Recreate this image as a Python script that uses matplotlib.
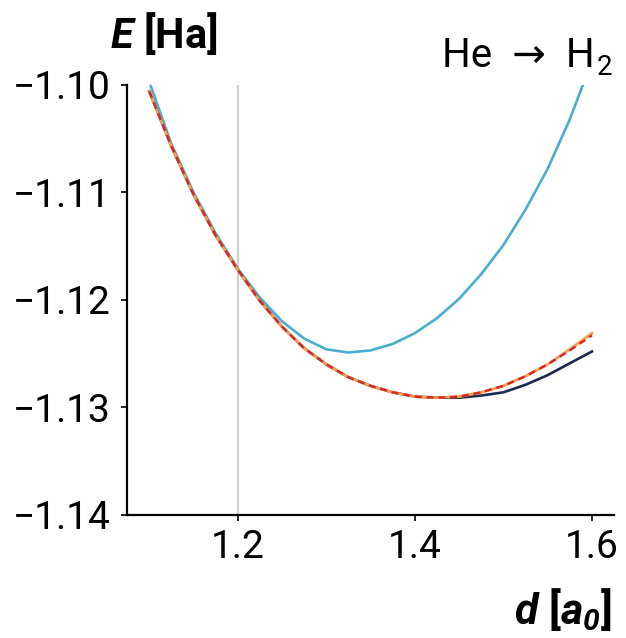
import matplotlib
matplotlib.use("Agg")
import matplotlib.pyplot as plt

FONT = ["Roboto", "DejaVu Sans"]
plt.rcParams["font.family"] = FONT
plt.rcParams["mathtext.fontset"] = "custom"
plt.rcParams["mathtext.rm"] = "Roboto"
plt.rcParams["mathtext.it"] = "Roboto:italic"
plt.rcParams["mathtext.bf"] = "Roboto:bold"
plt.rcParams["mathtext.bfit"] = "Roboto:bold:italic"

# bond length d [a0]
d = [1.100, 1.125, 1.150, 1.175, 1.200, 1.225, 1.250, 1.275, 1.300, 1.325, 1.350,
     1.375, 1.400, 1.425, 1.450, 1.475, 1.500, 1.525, 1.550, 1.575, 1.600]

# energies [Ha]
e_blue = [-1.0997, -1.1055, -1.1100, -1.1138, -1.1171, -1.1198, -1.1220, -1.1236,
          -1.1246, -1.1249, -1.1247, -1.1241, -1.1231, -1.1217, -1.1199, -1.1176,
          -1.1149, -1.1116, -1.1078, -1.1032, -1.0978]
e_navy = [-1.1006, -1.1057, -1.1102, -1.1140, -1.1172, -1.1201, -1.1225, -1.1245,
          -1.1260, -1.1272, -1.1280, -1.1286, -1.1290, -1.1291, -1.1291, -1.1289,
          -1.1286, -1.1279, -1.1270, -1.1259, -1.1248]
e_orange = [-1.1006, -1.1057, -1.1102, -1.1140, -1.1172, -1.1201, -1.1225, -1.1245,
            -1.1260, -1.1272, -1.1280, -1.1286, -1.1290, -1.1291, -1.1290, -1.1286,
            -1.1280, -1.1271, -1.1260, -1.1246, -1.1231]
e_red = [-1.1006, -1.1057, -1.1102, -1.1140, -1.1172, -1.1201, -1.1225, -1.1245,
         -1.1260, -1.1272, -1.1280, -1.1286, -1.1290, -1.1291, -1.1290, -1.1286,
         -1.1280, -1.1271, -1.1260, -1.1247, -1.1233]

d_ref = 1.2
yticks = [-1.14, -1.13, -1.12, -1.11, -1.10]
xticks = [1.2, 1.4, 1.6]

fig = plt.figure(figsize=(6.26, 6.38), dpi=100)
ax = fig.add_axes([0.203, 0.193, 0.778, 0.674])

ax.axvline(d_ref, color="#d0d0d0", lw=1.6, zorder=1)
ax.plot(d, e_blue, color="#4aaed0", lw=1.9, zorder=2)
ax.plot(d, e_navy, color="#1b2a4e", lw=1.9, zorder=3)
ax.plot(d, e_orange, color="#f5a04a", lw=2.0, zorder=4)
ax.plot(d, e_red, color="#d62728", lw=1.7, ls=(0, (3, 2)), zorder=5)

ax.set_ylim(-1.14, -1.10)
ax.set_yticks(yticks)
ax.set_yticklabels(["\u2212%.2f" % abs(v) for v in yticks])
ax.set_xticks(xticks)
ax.set_xticklabels(["%.1f" % v for v in xticks])

for s in ["top", "right"]:
    ax.spines[s].set_visible(False)
for s in ["left", "bottom"]:
    ax.spines[s].set_linewidth(1.6)
ax.tick_params(labelsize=28, width=1.2, length=4)
ax.tick_params(axis="y", pad=8)
ax.tick_params(axis="x", pad=6)

fig.text(0.262, 0.947, r"$\mathbfit{E}$ [Ha]", fontsize=30, fontweight="bold",
         ha="center", va="center")
# "He -> H2": plain text so the arrow glyph falls back to DejaVu
fig.text(0.950, 0.895, "He  \u2192  H", fontsize=29, ha="right", va="baseline")
fig.text(0.978, 0.882, "2", fontsize=20, ha="right", va="baseline")
fig.text(0.978, 0.045, r"$\mathbfit{d}$ [$\mathbfit{a}_\mathbfit{0}$]", fontsize=31,
         fontweight="bold", ha="right", va="center")

fig.savefig("out.png", dpi=100)
